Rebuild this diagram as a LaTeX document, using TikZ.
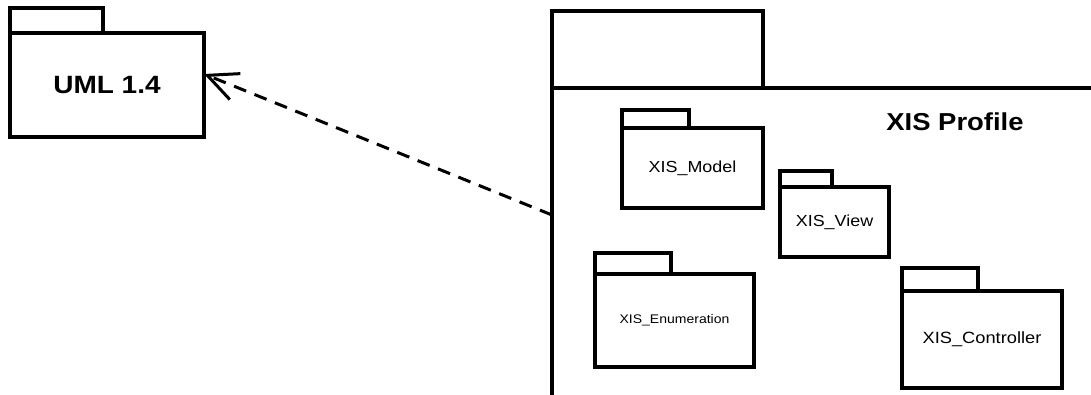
\documentclass[tikz,border=0pt]{standalone}
\usepackage{fontspec}
\setmainfont{Liberation Sans}[FakeStretch=1.12]
\usetikzlibrary{arrows.meta,positioning}

\begin{document}
\begin{tikzpicture}[x=1pt,y=-1pt,
  pkgbody/.style={draw,line width=3.5pt,rectangle,inner sep=0pt,outer sep=0pt,anchor=north west},
  pkgtab/.style={draw,line width=3.5pt,rectangle,inner sep=0pt,outer sep=0pt,anchor=south west},
  dep/.style={-{Straight Barb[length=30pt,width=28pt,line width=3pt]},line width=3pt,dash pattern=on 13pt off 9pt}]

  \useasboundingbox (0,0) rectangle (1091,394);
  \clip (0,0) rectangle (1091,394);

  \node[pkgbody,minimum width=194,minimum height=104] (uml) at (10,33)
    {\fontsize{25}{30}\selectfont\bfseries UML 1.4};
  \node[pkgtab,minimum width=93,minimum height=25] (umltab) at (uml.north west) {};

  \node[pkgbody,minimum width=600,minimum height=400] (profile) at (552,88) {};
  \node[pkgtab,minimum width=211,minimum height=77] (profiletab) at (profile.north west) {};
  \node (profilename) at (955,122) {\fontsize{24.5}{29}\selectfont\bfseries XIS Profile};

  \node[pkgbody,minimum width=141,minimum height=80] (model) at (622,128)
    {\fontsize{16}{19}\selectfont XIS\_Model};
  \node[pkgtab,minimum width=67,minimum height=18] (modeltab) at (model.north west) {};

  \node[pkgbody,minimum width=109,minimum height=70] (view) at (780,187)
    {\fontsize{16}{19}\selectfont XIS\_View};
  \node[pkgtab,minimum width=52,minimum height=16] (viewtab) at (view.north west) {};

  \node[pkgbody,minimum width=159,minimum height=93] (enum) at (595,274)
    {\fontsize{12.5}{15}\selectfont XIS\_Enumeration};
  \node[pkgtab,minimum width=76,minimum height=21] (enumtab) at (enum.north west) {};

  \node[pkgbody,minimum width=160,minimum height=97] (ctrl) at (902,291)
    {\fontsize{16.3}{19}\selectfont XIS\_Controller};
  \node[pkgtab,minimum width=76,minimum height=23] (ctrltab) at (ctrl.north west) {};

  \coordinate (depstart) at (552,215);
  \draw[dep] (depstart) -- ([yshift=11pt]uml.east);
\end{tikzpicture}
\end{document}
